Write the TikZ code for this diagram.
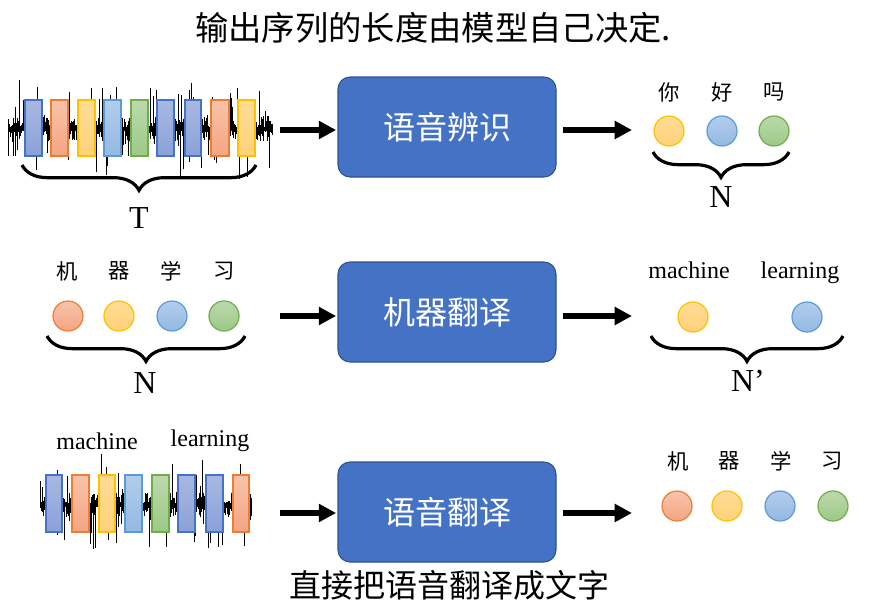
\documentclass[tikz,border=0pt]{standalone}
\usepackage{fontspec}
\setmainfont{Liberation Serif}
\newfontfamily\cjk{Noto Sans CJK SC}
\usetikzlibrary{arrows.meta,decorations.pathreplacing}
\definecolor{boxfill}{HTML}{4472C4}
\definecolor{boxline}{HTML}{2F528F}
\definecolor{bluB}{HTML}{4472C4}\definecolor{bluT}{HTML}{A9B8E2}\definecolor{bluD}{HTML}{8AA1D8}
\definecolor{orgB}{HTML}{ED7D31}\definecolor{orgT}{HTML}{F7C3AB}\definecolor{orgD}{HTML}{F4A582}
\definecolor{yelB}{HTML}{FFC000}\definecolor{yelT}{HTML}{FFDC94}\definecolor{yelD}{HTML}{FFD27A}
\definecolor{lbuB}{HTML}{5B9BD5}\definecolor{lbuT}{HTML}{B3CDEB}\definecolor{lbuD}{HTML}{93B9E3}
\definecolor{grnB}{HTML}{70AD47}\definecolor{grnT}{HTML}{BCD9AD}\definecolor{grnD}{HTML}{9CC987}
\newcommand{\wavedraw}[4]{%
  \pgfmathsetseed{#4}%
  \draw[line width=0.6pt] (#1,#3) -- (#2,#3);
  \pgfmathtruncatemacro\wn{(#2-#1)/0.55}%
  \foreach \i in {0,...,\wn}{%
    \pgfmathsetmacro\wx{#1+\i*0.55}%
    \pgfmathsetmacro\wa{1.5+11*rnd^2.2+42*rnd^16}%
    \pgfmathsetmacro\wb{1.5+11*rnd^2.2+40*rnd^16}%
    \draw[line width=0.45pt] (\wx,#3-\wa) -- (\wx,#3+\wb);
  }%
}
\begin{document}
\begin{tikzpicture}[x=0.75pt,y=-0.75pt,
  box/.style={draw=boxline,fill=boxfill,line width=0.8pt,rounded corners=9pt,minimum width=163.5pt,minimum height=75pt,text=white,font=\cjk\fontsize{24}{28}\selectfont},
  arr/.style={line width=4.5pt,-{Triangle[length=13pt,width=13pt]}},
  brc/.style={decorate,decoration={brace,mirror,amplitude=19pt},line width=2.4pt},
  bl/.style={draw=bluB,top color=bluT,bottom color=bluD,line width=0.9pt},
  og/.style={draw=orgB,top color=orgT,bottom color=orgD,line width=0.9pt},
  yl/.style={draw=yelB,top color=yelT,bottom color=yelD,line width=0.9pt},
  lb/.style={draw=lbuB,top color=lbuT,bottom color=lbuD,line width=0.9pt},
  gn/.style={draw=grnB,top color=grnT,bottom color=grnD,line width=0.9pt},
  dot/.style={circle,inner sep=0pt,minimum size=22.5pt},
  zh/.style={font=\cjk\fontsize{16}{18}\selectfont},
  en/.style={font=\fontsize{18}{20}\selectfont},
  big/.style={font=\fontsize{24}{26}\selectfont}]
\useasboundingbox (0,0) rectangle (878,611);
\fill[white] (0,0) rectangle (878,611);

\node[font=\cjk\fontsize{25}{30}\selectfont] (title) at (433,28) {输出序列的长度由模型自己决定.};
\node[font=\cjk\fontsize{24}{28}\selectfont] (foot) at (449,585) {直接把语音翻译成文字};

% boxes
\node[box] (b1) at (447,127) {语音辨识};
\node[box] (b2) at (447,312) {机器翻译};
\node[box] (b3) at (447,512) {语音翻译};

% arrows
\coordinate (l1) at (280,130); \coordinate (r1) at (632,130);
\coordinate (l2) at (280,316); \coordinate (r2) at (632,316);
\coordinate (l3) at (280,513); \coordinate (r3) at (632,513);
\draw[arr,shorten >=1pt] (l1) -- (l1 -| b1.west);
\draw[arr,shorten <=5pt] (r1 -| b1.east) -- (r1);
\draw[arr,shorten >=1pt] (l2) -- (l2 -| b2.west);
\draw[arr,shorten <=5pt] (r2 -| b2.east) -- (r2);
\draw[arr,shorten >=1pt] (l3) -- (l3 -| b3.west);
\draw[arr,shorten <=5pt] (r3 -| b3.east) -- (r3);

% row 1 waveform
\wavedraw{8}{272}{129}{7}
\draw[bl] (25,100) rectangle (42,156);
\draw[og] (51,100) rectangle (68,156);
\draw[yl] (78,100) rectangle (95,156);
\draw[lb] (104,100) rectangle (121,156);
\draw[gn] (131,100) rectangle (148,156);
\draw[bl] (157,100) rectangle (174,156);
\draw[bl] (185,100) rectangle (201,156);
\draw[og] (211,100) rectangle (229,156);
\draw[yl] (238,100) rectangle (255,156);
\coordinate (t1a) at (22,165); \coordinate (t1b) at (256,165);
\draw[brc] (t1a) -- (t1b);
\node[big] (T) at (139,218) {T};

% row 1 output
\node[zh] (c1) at (669,92) {你};
\node[zh] (c2) at (722,92) {好};
\node[zh] (c3) at (774,92) {吗};
\node[dot,yl] (o1) at (669,131) {};
\node[dot,lb] (o2) at (722,131) {};
\node[dot,gn] (o3) at (774,131) {};
\coordinate (n1a) at (653,152); \coordinate (n1b) at (789,152);
\draw[brc] (n1a) -- (n1b);
\node[big] (N1) at (721,197) {N};

% row 2 input
\node[zh] (d1) at (67,271) {机};
\node[zh] (d2) at (119,271) {器};
\node[zh] (d3) at (171,271) {学};
\node[zh] (d4) at (224,271) {习};
\node[dot,og] (i1) at (68,316) {};
\node[dot,yl] (i2) at (119,316) {};
\node[dot,lb] (i3) at (172,316) {};
\node[dot,gn] (i4) at (224,316) {};
\coordinate (n2a) at (47,336); \coordinate (n2b) at (245,336);
\draw[brc] (n2a) -- (n2b);
\node[big] (N2) at (145,383) {N};

% row 2 output
\node[en] (m1) at (689,270) {machine};
\node[en] (m2) at (800,273) {learning};
\node[dot,yl] (p1) at (693,317) {};
\node[dot,lb] (p2) at (807,317) {};
\coordinate (n3a) at (651,336); \coordinate (n3b) at (843,336);
\draw[brc] (n3a) -- (n3b);
\node[big] (N3) at (748,381) {N’};

% row 3 input
\node[en] (m3) at (97,441) {machine};
\node[en] (m4) at (210,441) {learning};
\wavedraw{40}{252}{505}{11}
\draw[bl] (46,475) rectangle (62,532);
\draw[og] (72,475) rectangle (89,532);
\draw[yl] (99,475) rectangle (115,532);
\draw[lb] (125,475) rectangle (142,532);
\draw[gn] (152,475) rectangle (169,532);
\draw[bl] (178,475) rectangle (195,532);
\draw[bl] (206,475) rectangle (223,532);
\draw[og] (233,475) rectangle (249,532);

% row 3 output
\node[zh] (e1) at (678,461) {机};
\node[zh] (e2) at (729,461) {器};
\node[zh] (e3) at (781,461) {学};
\node[zh] (e4) at (832,461) {习};
\node[dot,og] (q1) at (677,506) {};
\node[dot,yl] (q2) at (727,506) {};
\node[dot,lb] (q3) at (780,506) {};
\node[dot,gn] (q4) at (833,506) {};
\end{tikzpicture}
\end{document}
